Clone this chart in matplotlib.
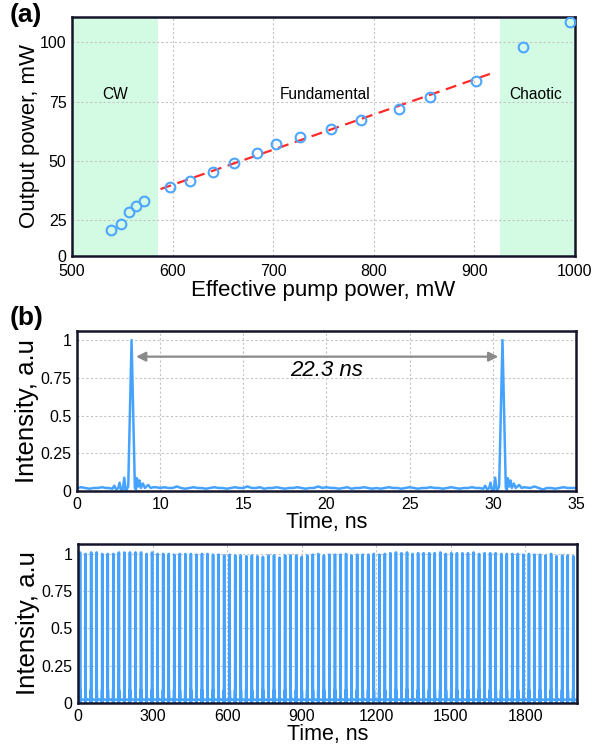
import numpy as np
import matplotlib
matplotlib.use("Agg")
import matplotlib.pyplot as plt

plt.rcParams['font.family'] = ['Liberation Sans', 'DejaVu Sans']

# ---- panel (a): output power vs effective pump power
pump = [539, 549, 557, 564, 572, 597, 617, 640, 661, 684, 703, 727, 757, 787,
        825, 856, 902, 948, 995]
out_pw = [21.1, 23.5, 28.4, 30.9, 33.0, 39.1, 41.7, 45.4, 49.2, 53.5, 57.0,
          60.0, 63.5, 67.4, 71.9, 77.0, 83.7, 97.9, 108.6]
fit_x = [588, 916]
fit_y = [38.2, 86.8]
cw_region = [500, 585]
chaotic_region = [925, 1000]
regions = {"CW": (543, 78), "Fundamental": (752, 78), "Chaotic": (961, 78)}

# ---- panel (b): oscilloscope trace, 5..35 ns window
pulse_times = [8.28, 30.58]
# pulse shape around each peak (offset in ns, intensity)
pulse_off = [-1.4, -1.15, -1.04, -0.92, -0.8, -0.72, -0.62, -0.52, -0.44, -0.34,
             -0.2, -0.1, 0.0, 0.1, 0.2, 0.27, 0.32, 0.4, 0.48, 0.56, 0.68, 0.8,
             1.0, 1.15, 1.3]
pulse_val = [0.02, 0.015, 0.035, 0.01, 0.02, 0.055, 0.0, 0.01, 0.088, 0.0,
             0.03, 0.5, 1.0, 0.5, 0.02, 0.01, 0.085, 0.03, 0.07, 0.02, 0.05,
             0.02, 0.04, 0.02, 0.025]
base_t = np.arange(5.0, 35.01, 0.25)
base_val = [0.02, 0.025, 0.02, 0.015, 0.02, 0.02, 0.025, 0.02,
            0.015, 0.02, 0.03, 0.02, 0.025, 0.02, 0.02, 0.03,
            0.02, 0.025, 0.03, 0.025, 0.02, 0.025, 0.02, 0.02,
            0.03, 0.02, 0.015, 0.02, 0.025, 0.02, 0.02, 0.015,
            0.02, 0.025, 0.02, 0.02, 0.015, 0.02, 0.025, 0.02,
            0.02, 0.03, 0.02, 0.02, 0.025, 0.015, 0.02, 0.02,
            0.025, 0.02, 0.015, 0.02, 0.02, 0.025, 0.02, 0.015,
            0.02, 0.02, 0.03, 0.02, 0.025, 0.02, 0.02, 0.015,
            0.02, 0.025, 0.015, 0.02, 0.02, 0.025, 0.02, 0.015,
            0.02, 0.015, 0.02, 0.025, 0.02, 0.02, 0.015, 0.02,
            0.025, 0.02, 0.015, 0.02, 0.02, 0.025, 0.02, 0.02,
            0.015, 0.02, 0.025, 0.02, 0.015, 0.02, 0.02, 0.025,
            0.02, 0.015, 0.02, 0.02, 0.03, 0.02, 0.025, 0.02,
            0.02, 0.015, 0.02, 0.025, 0.02, 0.02, 0.03, 0.02,
            0.01, 0.02, 0.02, 0.015, 0.02, 0.025, 0.02, 0.02, 0.02]
period_label = "22.3 ns"

# ---- panel (b) lower: long pulse train, peak heights
train_first = 8.3
train_period = 22.3
train_peaks = [1.01, 1.00, 1.01, 1.01, 1.00, 1.00, 1.00, 1.01, 1.01, 1.01,
               1.01, 1.01, 1.00, 1.01, 1.00, 1.00, 1.00, 0.995, 1.00, 1.00,
               1.00, 0.995, 1.00, 1.00, 0.995, 0.995, 0.99, 0.995, 0.99, 0.99,
               0.985, 0.99, 0.985, 0.98, 0.99, 0.99, 0.975, 0.99, 0.99, 0.99,
               0.98, 0.99, 0.995, 1.00, 0.99, 0.995, 0.995, 0.995, 1.00, 0.99,
               0.995, 0.995, 0.995, 1.00, 0.995, 1.00, 1.005, 1.01, 1.005, 1.01,
               1.00, 1.005, 1.005, 1.005, 1.005, 1.01, 1.00, 1.005, 1.005, 1.005,
               1.005, 1.01, 1.00, 1.005, 1.005, 1.005, 1.00, 1.00, 1.00, 1.00,
               0.995, 1.00, 0.995, 0.995, 0.99, 1.00, 0.985, 0.99, 0.99, 0.985]

blue = '#45a3ff'
spine_c = '#14142a'
grid_kw = dict(color='#c4c4c4', linestyle=(0, (2, 2)), linewidth=0.8)


def style_ax(ax):
    for s in ax.spines.values():
        s.set_linewidth(1.8)
        s.set_color(spine_c)
    ax.tick_params(length=0, labelsize=11.5, pad=4)
    ax.grid(True, **grid_kw)
    ax.set_axisbelow(True)


fig = plt.figure(figsize=(6.05, 7.5), dpi=100)

# (a)
ax1 = fig.add_axes([72/605, 1-256/750, 503/605, 239/750])
ax1.axvspan(*cw_region, color='#d3fbe4', lw=0, zorder=0)
ax1.axvspan(*chaotic_region, color='#d3fbe4', lw=0, zorder=0)
ax1.plot(fit_x, fit_y, color='#ff2a2a', ls=(0, (5, 3)), lw=1.6, zorder=2)
ax1.plot(pump, out_pw, 'o', mfc='none', mec='#4da6ff', ms=7, mew=1.5, zorder=3)
for name, (xx, yy) in regions.items():
    ax1.text(xx, yy, name, ha='center', va='center', fontsize=11.2)
ax1.set_xlim(500, 1000)
ax1.set_ylim(10, 110.7)
ax1.set_xticks([500, 600, 700, 800, 900, 1000])
ax1.set_yticks([10, 25, 50, 75, 100])
ax1.set_yticklabels(['0', '25', '50', '75', '100'])
style_ax(ax1)
ax1.tick_params(axis='x', pad=5.5)
ax1.set_xlabel('Effective pump power, mW', fontsize=16, labelpad=1)
ax1.set_ylabel('Output power, mW', fontsize=16, labelpad=0)

# (b) upper
tt = list(base_t)
vv = list(base_val)
keep = [i for i, t in enumerate(tt) if min(abs(t - p) for p in pulse_times) > 1.45]
tt = [tt[i] for i in keep]
vv = [vv[i] for i in keep]
for p in pulse_times:
    tt += [p + o for o in pulse_off]
    vv += pulse_val
order = np.argsort(tt)
tt = np.array(tt)[order]
vv = np.array(vv)[order]

ax2 = fig.add_axes([77/605, 1-491/750, 499/605, 160/750])
ax2.plot(tt, vv, color=blue, lw=1.8)
ax2.annotate('', xy=(30.33, 0.89), xytext=(8.55, 0.89),
             arrowprops=dict(arrowstyle='<|-|>', color='#8a8a8a', lw=1.6,
                             mutation_scale=14, shrinkA=0, shrinkB=0))
ax2.text(20.0, 0.80, period_label, ha='center', va='center', fontsize=16,
         style='italic')
ax2.set_xlim(5, 35)
ax2.set_ylim(0, 1.06)
ax2.set_xticks([5, 10, 15, 20, 25, 30, 35])
ax2.set_xticklabels(['0', '10', '15', '20', '25', '30', '35'])
ax2.set_yticks([0, 0.25, 0.5, 0.75, 1])
ax2.set_yticklabels(['0', '0.25', '0.5', '0.75', '1'])
style_ax(ax2)
ax2.set_xlabel('Time, ns', fontsize=15.5, labelpad=0)
ax2.set_ylabel('Intensity, a.u', fontsize=18.5, labelpad=1)

# (b) lower
bt = [0.0]
bv = [0.02]
for k, h in enumerate(train_peaks):
    c = train_first + k * train_period
    bt += [c + o for o in pulse_off]
    bv += [v * h for v in pulse_val]
bt.append(2006)
bv.append(0.02)

ax3 = fig.add_axes([78/605, 1-703/750, 498.5/605, 159.5/750])
ax3.plot(bt, bv, color=blue, lw=1.9)
ax3.set_xlim(0, 2006)
ax3.set_ylim(0, 1.07)
ax3.set_xticks([0, 300, 600, 900, 1200, 1500, 1800])
ax3.set_yticks([0, 0.25, 0.5, 0.75, 1])
ax3.set_yticklabels(['0', '0.25', '0.5', '0.75', '1'])
style_ax(ax3)
ax3.set_xlabel('Time, ns', fontsize=15.5, labelpad=0)
ax3.set_ylabel('Intensity, a.u', fontsize=18.5, labelpad=1)

fig.text(10/605, 1-15/750, '(a)', fontsize=19, fontweight='bold', va='center')
fig.text(10/605, 1-318/750, '(b)', fontsize=19, fontweight='bold', va='center')

fig.savefig('out.png', dpi=100)
